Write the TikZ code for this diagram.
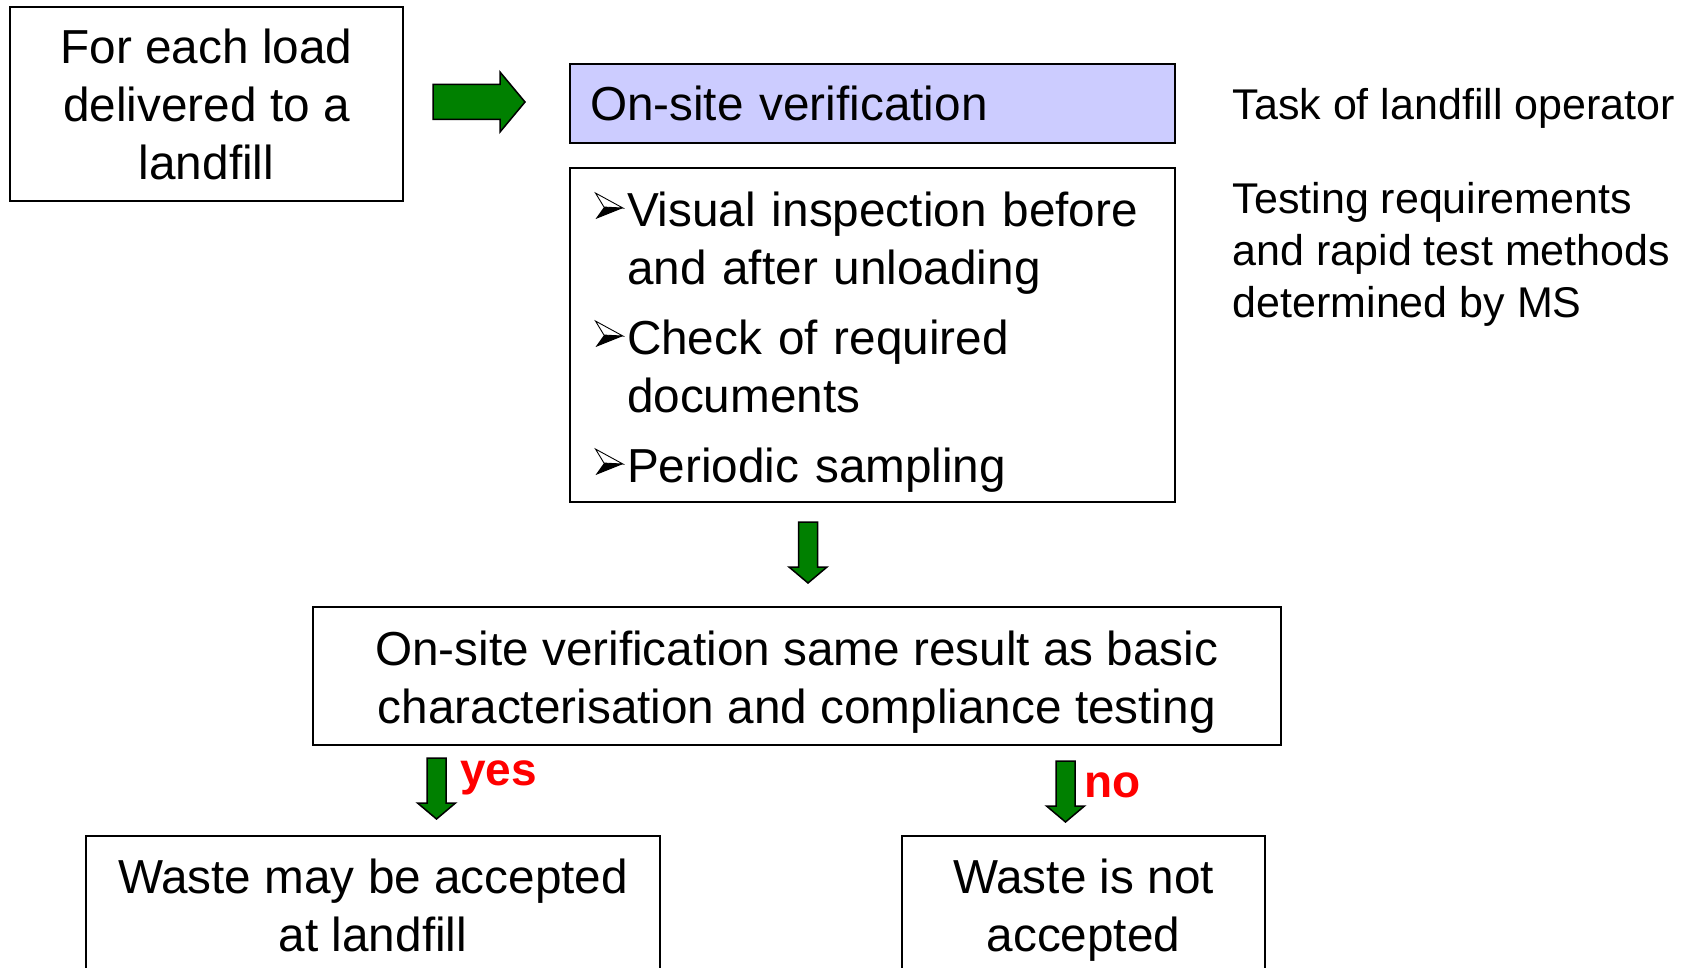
\documentclass[tikz,border=0pt]{standalone}
\usepackage{fontspec}
\setmainfont{Liberation Sans}
\definecolor{lav}{HTML}{CCCCFF}
\definecolor{arrgreen}{HTML}{008000}
\newcommand\bulglyph{\begin{pgfpicture}%
  \pgfsetlinewidth{0.9pt}\pgfsetmiterjoin
  \pgfpathmoveto{\pgfpoint{0.5pt}{33pt}}\pgfpathlineto{\pgfpoint{28pt}{18pt}}\pgfpathlineto{\pgfpoint{9pt}{19pt}}\pgfpathclose\pgfusepath{stroke}%
  \pgfpathmoveto{\pgfpoint{9pt}{19pt}}\pgfpathlineto{\pgfpoint{28pt}{18pt}}\pgfpathlineto{\pgfpoint{0.5pt}{7pt}}\pgfpathclose\pgfusepath{fill}%
  \pgfpathrectangle{\pgfpoint{0pt}{0pt}}{\pgfpoint{28pt}{33pt}}\pgfusepath{use as bounding box}%
\end{pgfpicture}}
\newcommand\mybul{\makebox[32pt][l]{\bulglyph}}
\newcommand\lift[1]{\rule{0pt}{#1}}
\newcommand\sink[1]{\rule[-#1]{0pt}{#1}}
\begin{document}
\begin{tikzpicture}[x=1pt,y=-1pt,
  box/.style={draw=black, line width=2pt, align=center, inner sep=0pt},
  big/.style={font=\fontsize{47.7}{58}\selectfont},
  side/.style={font=\fontsize{43}{52}\selectfont, align=left, inner sep=0pt, anchor=west},
  blockarrow/.style={draw=black, line width=1.5pt, fill=arrgreen, line join=miter},
  answer/.style={text=red, font=\fontsize{46}{52}\selectfont\bfseries, inner sep=0pt, anchor=base west},
  downarr/.pic={\path[blockarrow] (-9.5,0) -- (9.5,0) -- (9.5,45) -- (19,45) -- (0,61) -- (-19,45) -- (-9.5,45) -- cycle;},
  rightarr/.pic={\path[blockarrow] (0,-17.5) -- (67,-17.5) -- (67,-30) -- (92,0) -- (67,30) -- (67,17.5) -- (0,17.5) -- cycle;}
]
\clip (0,0) rectangle (1690,968);
\fill[white] (0,0) rectangle (1690,968);

\node[box, big, minimum width=393, minimum height=194] (load) at (206.5,104) {For each load\\delivered to a\\landfill};

\node[box, big, fill=lav, minimum width=604.5, minimum height=79, text width=564.5, align=left, inner xsep=20pt] (osv) at (872.25,103.5) {On-site verification};

\node[box, minimum width=604.5, minimum height=334, text width=554.5, inner xsep=25pt, align=left, font=\fontsize{47.7}{58.5}\selectfont] (checks) at (872.25,335) {\parindent=0pt\parskip=11pt
\hangindent=32pt\hangafter=1\mybul\lift{48pt}Visual inspection before\newline and after unloading\par
\hangindent=32pt\hangafter=1\mybul Check of required\newline documents\par
\hangindent=32pt\hangafter=1\mybul Periodic sampling\par};

\node[box, big, minimum width=967.5, minimum height=138] (same) at (796.75,676) {\lift{47pt}On-site verification same result as basic\\characterisation and compliance testing};

\node[box, big, minimum width=574, minimum height=143, anchor=north] (accept) at (373,835) {Waste may be accepted\\at landfill\sink{5pt}};
\node[box, big, minimum width=363, minimum height=143, anchor=north] (reject) at (1083.5,835) {\lift{40pt}Waste is not\\accepted};

\node[side] (task) at (1232.5,108) {Task of landfill operator};
\node[side] (testing) at (1232.5,254) {Testing requirements\\and rapid test methods\\determined by MS};

\pic at (433,102) {rightarr};
\pic at (808,522) {downarr};
\pic at (436.5,758) {downarr};
\pic at (1065.5,761) {downarr};

\node[answer] (yeslabel) at (460,785) {yes};
\node[answer] (nolabel) at (1084,797) {no};
\end{tikzpicture}
\end{document}
